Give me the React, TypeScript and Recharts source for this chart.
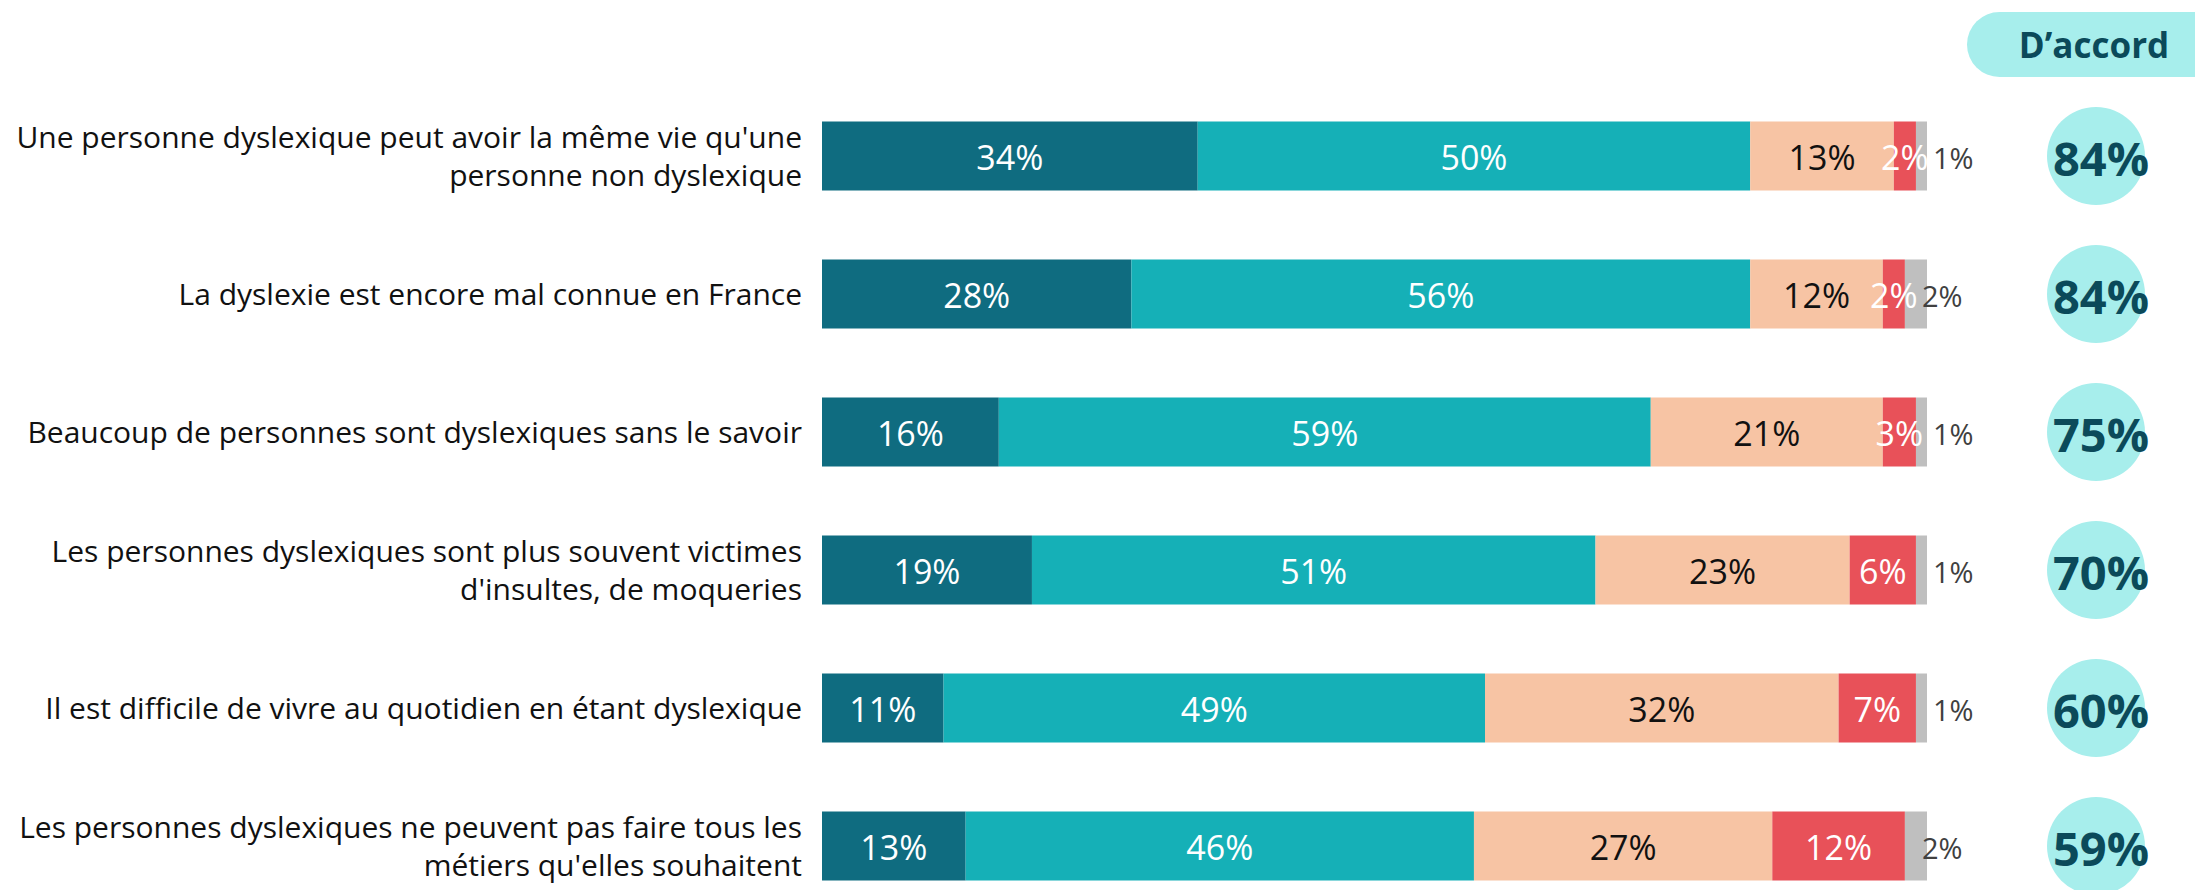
import React from 'react';
import { BarChart, Bar, XAxis, YAxis, LabelList } from 'recharts';

// statements (\n = line break in the axis label)
const categories = [
  "Une personne dyslexique peut avoir la même vie qu'une\npersonne non dyslexique",
  'La dyslexie est encore mal connue en France',
  'Beaucoup de personnes sont dyslexiques sans le savoir',
  "Les personnes dyslexiques sont plus souvent victimes\nd'insultes, de moqueries",
  'Il est difficile de vivre au quotidien en étant dyslexique',
  "Les personnes dyslexiques ne peuvent pas faire tous les\nmétiers qu'elles souhaitent",
];
const toutAFait = [34, 28, 16, 19, 11, 13];
const plutot = [50, 56, 59, 51, 49, 46];
const plutotPas = [13, 12, 21, 23, 32, 27];
const pasDuTout = [2, 2, 3, 6, 7, 12];
const nsp = [1, 2, 1, 1, 1, 2];
const daccord = [84, 84, 75, 70, 60, 59];

const data = categories.map((name, i) => ({
  name,
  toutAFait: toutAFait[i],
  plutot: plutot[i],
  plutotPas: plutotPas[i],
  pasDuTout: pasDuTout[i],
  nsp: nsp[i],
  daccord: daccord[i],
}));

const FONT = '"Open Sans", "Noto Sans", sans-serif';
const DARK = '#0b4a5a';
const CIRCLE = '#a7eeec';

const CategoryTick = (props: any) => {
  const { x, y, payload } = props;
  const lines = String(payload.value).split('\n');
  const lh = 38;
  const top = y - ((lines.length - 1) * lh) / 2;
  return (
    <text textAnchor="end" fontSize={30} fill="#111" fontFamily={FONT}>
      {lines.map((l, i) => (
        <tspan key={i} x={x} y={top + i * lh} dominantBaseline="central">
          {l}
        </tspan>
      ))}
    </text>
  );
};

const inside = (color: string) => (props: any) => {
  const { x, y, width, height, value } = props;
  return (
    <text
      x={x + width / 2}
      y={y + height / 2 + 1}
      textAnchor="middle"
      dominantBaseline="central"
      fill={color}
      fontSize={34}
      fontFamily={FONT}
    >
      {value}%
    </text>
  );
};

const outside = (props: any) => {
  const { x, y, height, value } = props;
  return (
    <text
      x={x + 17}
      y={y + height / 2 + 1}
      dominantBaseline="central"
      fill="#404040"
      fontSize={29}
      fontFamily={FONT}
    >
      {value}%
    </text>
  );
};

const accordBadge = (props: any) => {
  const { x, width, y, height, value } = props;
  const cx = x + width + 169;
  const cy = y + height / 2;
  return (
    <g>
      <ellipse cx={cx} cy={cy} rx={49} ry={49} fill={CIRCLE} />
      <text
        x={cx + 5}
        y={cy + 2}
        textAnchor="middle"
        dominantBaseline="central"
        fill={DARK}
        fontSize={47}
        fontWeight={700}
        fontFamily={FONT}
      >
        {value}%
      </text>
    </g>
  );
};

export default function App() {
  return (
    <div
      style={{
        position: 'absolute',
        left: 0,
        top: 0,
        width: 2195,
        height: 890,
        overflow: 'hidden',
        background: '#fff',
        fontFamily: FONT,
      }}
    >
      <div
        style={{
          position: 'absolute',
          left: 1967,
          top: 12,
          width: 260,
          height: 65,
          borderRadius: 33,
          background: CIRCLE,
        }}
      />
      <div
        style={{
          position: 'absolute',
          left: 2012,
          top: 12,
          width: 164,
          height: 65,
          lineHeight: '65px',
          textAlign: 'center',
          fontSize: 35,
          fontWeight: 700,
          color: DARK,
        }}
      >
        D’accord
      </div>
      <BarChart
        width={2195}
        height={920}
        data={data}
        layout="vertical"
        margin={{ top: 86.5, right: 268, bottom: 5.5, left: 0 }}
        barSize={69}
        style={{ position: 'absolute', left: 0, top: 0 }}
      >
        <XAxis type="number" domain={[0, 100]} hide />
        <YAxis
          type="category"
          dataKey="name"
          width={822}
          axisLine={false}
          tickLine={false}
          tickSize={0}
          tickMargin={20}
          interval={0}
          tick={<CategoryTick />}
        />
        <Bar dataKey="toutAFait" stackId="a" fill="#0f6c80" isAnimationActive={false}>
          <LabelList dataKey="toutAFait" content={inside('#ffffff')} />
        </Bar>
        <Bar dataKey="plutot" stackId="a" fill="#15b0b7" isAnimationActive={false}>
          <LabelList dataKey="plutot" content={inside('#ffffff')} />
        </Bar>
        <Bar dataKey="plutotPas" stackId="a" fill="#f7c4a4" isAnimationActive={false}>
          <LabelList dataKey="plutotPas" content={inside('#111111')} />
        </Bar>
        <Bar dataKey="pasDuTout" stackId="a" fill="#e85159" isAnimationActive={false}>
          <LabelList dataKey="pasDuTout" content={inside('#ffffff')} />
        </Bar>
        <Bar dataKey="nsp" stackId="a" fill="#bfbfbf" isAnimationActive={false}>
          <LabelList dataKey="nsp" content={outside} />
          <LabelList dataKey="daccord" content={accordBadge} />
        </Bar>
      </BarChart>
    </div>
  );
}
